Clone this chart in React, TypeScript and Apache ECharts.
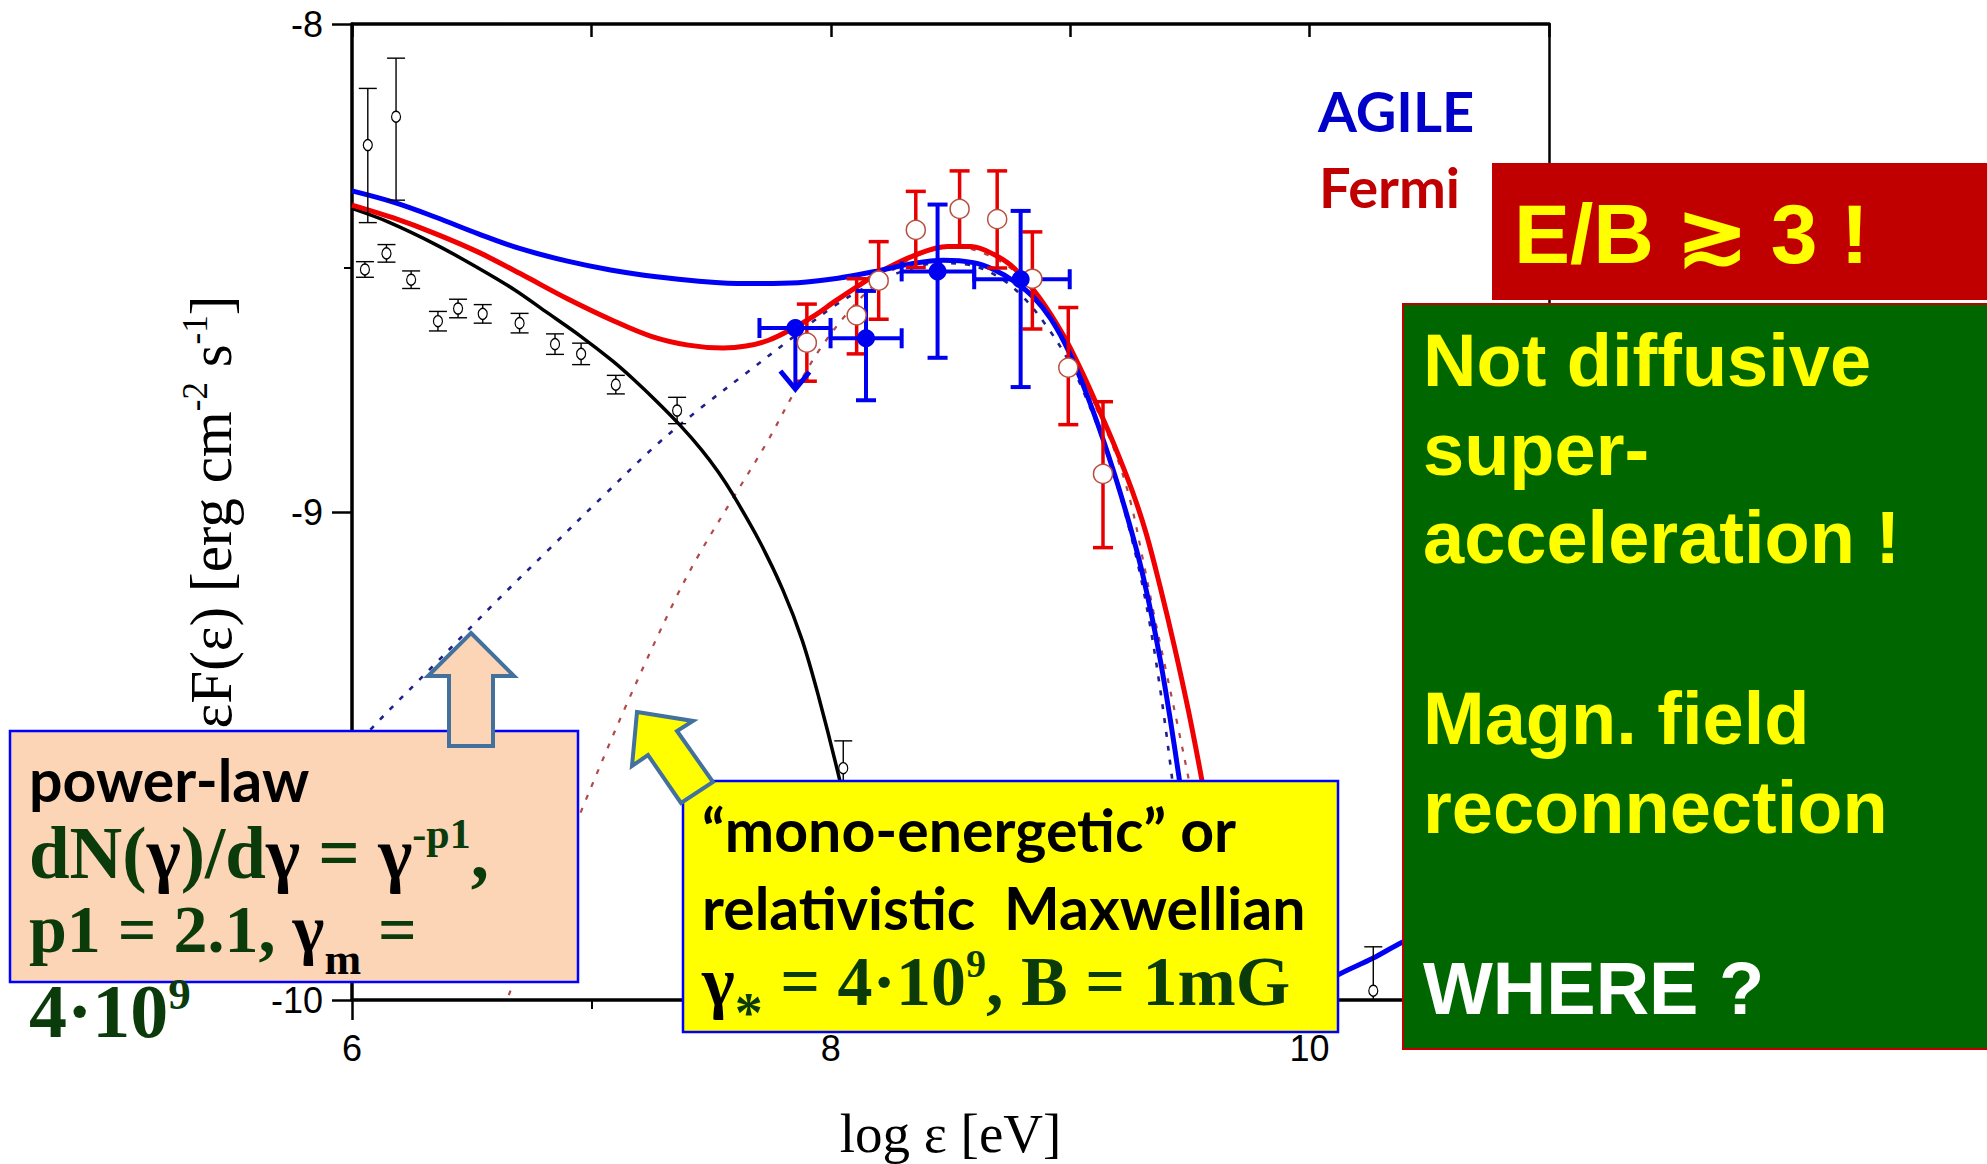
import React, { useEffect, useRef } from "react";
import * as echarts from "echarts";

// ---------------- data ----------------
const xTickLabels = ["6", "8", "10"];
const yTickLabels = ["-10", "-9", "-8"];

// black open circles: [log e, log eF, lower, upper]
const lowEnergyPoints = [
  [6.066, -8.248, -8.407, -8.132],
  [6.184, -8.19, -8.361, -8.07],
  [6.054, -8.503, -8.519, -8.487],
  [6.144, -8.47, -8.488, -8.452],
  [6.247, -8.524, -8.542, -8.506],
  [6.359, -8.609, -8.629, -8.589],
  [6.443, -8.583, -8.602, -8.564],
  [6.546, -8.594, -8.613, -8.575],
  [6.7, -8.613, -8.633, -8.593],
  [6.848, -8.656, -8.677, -8.635],
  [6.957, -8.676, -8.698, -8.654],
  [7.102, -8.739, -8.758, -8.72],
  [7.358, -8.792, -8.819, -8.765],
  [8.052, -9.525, -9.58, -9.469],
  [10.266, -9.981, -10.06, -9.891],
];

// Fermi open red circles: [x, y, lower, upper]
const fermiPoints = [
  [7.9, -8.653, -8.732, -8.574],
  [8.108, -8.597, -8.676, -8.522],
  [8.2, -8.526, -8.605, -8.446],
  [8.355, -8.422, -8.499, -8.343],
  [8.538, -8.379, -8.457, -8.301],
  [8.695, -8.4, -8.5, -8.301],
  [8.842, -8.522, -8.625, -8.426],
  [8.992, -8.704, -8.821, -8.581],
  [9.137, -8.922, -9.073, -8.774],
];

// AGILE filled blue circles: [x, y, yLow, yHigh, xLow, xHigh, upperLimit]
const agilePoints = [
  [7.852, -8.623, -8.748, -8.623, 7.702, 7.999, 1],
  [8.147, -8.644, -8.771, -8.547, 7.999, 8.296, 0],
  [8.446, -8.507, -8.684, -8.37, 8.296, 8.599, 0],
  [8.793, -8.523, -8.744, -8.383, 8.599, 8.998, 0],
];

const blueModel = [
  [6.0, -8.342], [6.179, -8.366], [6.35, -8.396], [6.528, -8.43], [6.7, -8.46],
  [6.9, -8.486], [7.08, -8.504], [7.272, -8.518], [7.449, -8.527], [7.646, -8.532],
  [7.863, -8.53], [8.03, -8.521], [8.206, -8.505], [8.35, -8.49], [8.47, -8.484],
  [8.596, -8.489], [8.68, -8.503], [8.765, -8.527], [8.849, -8.561], [8.92, -8.605],
  [8.995, -8.672], [9.07, -8.76], [9.142, -8.858], [9.215, -8.97], [9.289, -9.1],
  [9.335, -9.2], [9.377, -9.305], [9.418, -9.425], [9.457, -9.552], [9.5, -9.7],
  [9.545, -9.86], [9.585, -10.0],
];

const redModel = [
  [6.0, -8.371], [6.17, -8.397], [6.34, -8.428], [6.53, -8.468], [6.712, -8.514],
  [6.9, -8.563], [7.087, -8.607], [7.25, -8.64], [7.404, -8.658], [7.55, -8.664],
  [7.646, -8.66], [7.74, -8.648], [7.834, -8.626], [7.93, -8.598], [8.021, -8.567],
  [8.12, -8.535], [8.206, -8.508], [8.35, -8.474], [8.488, -8.456], [8.585, -8.456],
  [8.68, -8.472], [8.765, -8.5], [8.87, -8.56], [8.974, -8.64], [9.05, -8.714],
  [9.12, -8.79], [9.186, -8.865], [9.26, -8.958], [9.318, -9.045], [9.375, -9.152],
  [9.435, -9.275], [9.495, -9.41], [9.551, -9.552], [9.6, -9.69], [9.65, -9.85],
  [9.695, -10.0],
];

const blackModel = [
  [6.0, -8.378], [6.153, -8.406], [6.35, -8.452], [6.527, -8.5], [6.68, -8.545],
  [6.808, -8.589], [6.95, -8.638], [7.087, -8.69], [7.18, -8.73], [7.274, -8.774],
  [7.37, -8.822], [7.461, -8.873], [7.53, -8.918], [7.592, -8.965], [7.7, -9.058],
  [7.8, -9.16], [7.88, -9.262], [7.95, -9.38], [8.035, -9.545], [8.1, -9.69],
  [8.17, -9.86], [8.22, -10.0],
];

const blueMonoModel = [
  [6.0, -9.49], [6.096, -9.436], [6.35, -9.31], [6.599, -9.185], [6.83, -9.073],
  [7.05, -8.967], [7.273, -8.862], [7.459, -8.786], [7.645, -8.716], [7.831, -8.646],
  [8.008, -8.58], [8.175, -8.532], [8.3, -8.507], [8.45, -8.49], [8.58, -8.494],
  [8.7, -8.518], [8.8, -8.558], [8.9, -8.618], [9.0, -8.696], [9.07, -8.77],
  [9.142, -8.862], [9.215, -8.977], [9.282, -9.105], [9.33, -9.222], [9.375, -9.36],
  [9.419, -9.52], [9.46, -9.69], [9.5, -9.87], [9.53, -10.0],
];

const redMonoModel = [
  [6.655, -9.99], [6.8, -9.802], [6.953, -9.618], [7.14, -9.402], [7.344, -9.185],
  [7.452, -9.085], [7.591, -8.972], [7.73, -8.86], [7.855, -8.748], [7.952, -8.668],
  [8.077, -8.588], [8.2, -8.527], [8.35, -8.477], [8.5, -8.458], [8.6, -8.463],
  [8.765, -8.505], [8.87, -8.564], [8.974, -8.648], [9.05, -8.722], [9.12, -8.8],
  [9.186, -8.875], [9.25, -8.975], [9.304, -9.098], [9.35, -9.21], [9.4, -9.325],
  [9.45, -9.44], [9.5, -9.56], [9.55, -9.69], [9.6, -9.83], [9.66, -10.0],
];

const blueHighModel = [
  [9.95, -10.0], [10.109, -9.951], [10.266, -9.914], [10.385, -9.882], [10.7, -9.81], [11.0, -9.75],
];

// ---------------- styling helpers ----------------
const DARK_GREEN = "#0B3B0B";
const SERIF = "'Liberation Serif', 'Times New Roman', serif";
const SANS = "'Liberation Sans', Arial, sans-serif";
const CAL = "Lato, 'Open Sans', sans-serif";

function lineSeries(data: number[][], color: string, width: number, type: any, z: number) {
  return {
    type: "line",
    data,
    showSymbol: false,
    symbol: "none",
    smooth: 0.35,
    silent: true,
    z,
    lineStyle: { color, width, type },
    emphasis: { disabled: true },
  };
}

function errorBarSeries(data: number[][], color: string, width: number, cap: number, z: number) {
  return {
    type: "custom",
    data,
    encode: { x: 0, y: 1 },
    clip: true,
    silent: true,
    z,
    renderItem: (params: any, api: any) => {
      const x = api.value(0);
      const a = api.coord([x, api.value(2)]);
      const b = api.coord([x, api.value(3)]);
      const st = { stroke: color, lineWidth: width };
      return {
        type: "group",
        children: [
          { type: "line", shape: { x1: a[0], y1: a[1], x2: b[0], y2: b[1] }, style: st },
          { type: "line", shape: { x1: a[0] - cap, y1: a[1], x2: a[0] + cap, y2: a[1] }, style: st },
          { type: "line", shape: { x1: b[0] - cap, y1: b[1], x2: b[0] + cap, y2: b[1] }, style: st },
        ],
      };
    },
  };
}

function agileBarSeries(data: number[][], color: string, width: number, cap: number, z: number) {
  return {
    type: "custom",
    data,
    encode: { x: 0, y: 1 },
    clip: true,
    silent: true,
    z,
    renderItem: (params: any, api: any) => {
      const x = api.value(0);
      const y = api.value(1);
      const p = api.coord([x, y]);
      const lo = api.coord([x, api.value(2)]);
      const hi = api.coord([x, api.value(3)]);
      const xl = api.coord([api.value(4), y]);
      const xh = api.coord([api.value(5), y]);
      const ul = api.value(6);
      const st = { stroke: color, lineWidth: width, lineCap: "butt" };
      const children: any[] = [
        { type: "line", shape: { x1: xl[0], y1: p[1], x2: xh[0], y2: p[1] }, style: st },
        { type: "line", shape: { x1: xl[0], y1: p[1] - cap, x2: xl[0], y2: p[1] + cap }, style: st },
        { type: "line", shape: { x1: xh[0], y1: p[1] - cap, x2: xh[0], y2: p[1] + cap }, style: st },
      ];
      if (ul) {
        children.push({ type: "line", shape: { x1: p[0], y1: p[1], x2: lo[0], y2: lo[1] }, style: st });
        children.push({
          type: "polyline",
          shape: { points: [[lo[0] - 15, lo[1] - 18], [lo[0], lo[1]], [lo[0] + 14, lo[1] - 17]] },
          style: { stroke: color, lineWidth: width + 1, fill: null },
        });
      } else {
        children.push({ type: "line", shape: { x1: hi[0], y1: hi[1], x2: lo[0], y2: lo[1] }, style: st });
        children.push({ type: "line", shape: { x1: lo[0] - cap, y1: lo[1], x2: lo[0] + cap, y2: lo[1] }, style: st });
        children.push({ type: "line", shape: { x1: hi[0] - cap, y1: hi[1], x2: hi[0] + cap, y2: hi[1] }, style: st });
      }
      return { type: "group", children };
    },
  };
}

function txt(x: number, y: number, text: string, o: any) {
  return {
    type: "text",
    x,
    y,
    z: 102,
    silent: true,
    style: {
      text,
      fill: o.fill,
      fontSize: o.size,
      fontFamily: o.family,
      fontWeight: o.weight || "bold",
      textAlign: "left",
      textVerticalAlign: "middle",
      align: "left",
      verticalAlign: "middle",
      rich: o.rich,
    },
  };
}

const serifRich = (main: number, lh: number) => ({
  g: { fill: DARK_GREEN, fontSize: main, fontFamily: SERIF, fontWeight: "bold", lineHeight: lh },
  k: { fill: "#000", fontSize: main, fontFamily: SERIF, fontWeight: "bold", lineHeight: lh },
});

export default function App() {
  const ref = useRef<HTMLDivElement>(null);

  useEffect(() => {
    if (!ref.current) return;
    const chart = echarts.init(ref.current, null, { renderer: "svg" });

    const axisLineStyle = { color: "#000", width: 3.5 };
    const option: any = {
      animation: false,
      backgroundColor: "#fff",
      grid: { left: 352, top: 24, width: 1197, height: 976, outerBoundsMode: "none" },
      xAxis: [
        {
          type: "value",
          position: "bottom",
          min: 6,
          max: 11,
          interval: 2,
          axisLine: { show: true, onZero: false, lineStyle: axisLineStyle },
          axisTick: { show: true, inside: false, length: 20, lineStyle: { color: "#000", width: 2.5 } },
          minorTick: { show: true, splitNumber: 2, length: 9, lineStyle: { color: "#000", width: 2 } },
          axisLabel: {
            formatter: (v: number) => (xTickLabels.includes(String(v)) ? String(v) : ""),
            fontFamily: SANS,
            fontSize: 36,
            color: "#000",
            margin: 30,
            showMaxLabel: false,
          },
          splitLine: { show: false },
          name: "log ε [eV]",
          nameLocation: "middle",
          nameGap: 106,
          nameTextStyle: { fontFamily: SERIF, fontSize: 55, color: "#000" },
        },
        {
          type: "value",
          position: "top",
          min: 6,
          max: 11,
          interval: 1,
          axisLine: { show: true, onZero: false, lineStyle: axisLineStyle },
          axisTick: { show: true, inside: true, length: 13, lineStyle: { color: "#000", width: 2.5 } },
          axisLabel: { show: false },
          splitLine: { show: false },
        },
      ],
      yAxis: [
        {
          type: "value",
          position: "left",
          min: -10,
          max: -8,
          interval: 1,
          axisLine: { show: true, onZero: false, lineStyle: axisLineStyle },
          axisTick: { show: true, inside: false, length: 20, lineStyle: { color: "#000", width: 2.5 } },
          minorTick: { show: true, splitNumber: 2, length: 8, lineStyle: { color: "#000", width: 2 } },
          axisLabel: {
            formatter: (v: number) => (yTickLabels.includes(String(v)) ? String(v) : ""),
            fontFamily: SANS,
            fontSize: 36,
            color: "#000",
            margin: 29,
          },
          splitLine: { show: false },
          name: "{a|εF(ε) [erg cm}{s|-2}{a| s}{s|-1}{a|]}",
          nameLocation: "middle",
          nameRotate: 90,
          nameGap: 108,
          nameTextStyle: {
            fontFamily: SERIF,
            fontSize: 59,
            color: "#000",
            rich: {
              a: { fontFamily: SERIF, fontSize: 59, color: "#000", lineHeight: 66 },
              s: { fontFamily: SERIF, fontSize: 35, color: "#000", lineHeight: 36, verticalAlign: "top" },
            },
          },
        },
        {
          type: "value",
          position: "right",
          min: -10,
          max: -8,
          interval: 1,
          axisLine: { show: true, onZero: false, lineStyle: { color: "#000", width: 2.5 } },
          axisTick: { show: false },
          axisLabel: { show: false },
          splitLine: { show: false },
        },
      ],
      series: [
        lineSeries(redMonoModel, "#B24848", 2.2, [5, 9], 2),
        lineSeries(blueMonoModel, "#20208C", 2.6, [5, 9], 2),
        lineSeries(blackModel, "#000000", 3.5, "solid", 3),
        lineSeries(redModel, "#F00000", 5, "solid", 3),
        lineSeries(blueModel, "#0000F5", 5, "solid", 3),
        lineSeries(blueHighModel, "#0000F5", 5, "solid", 3),
        errorBarSeries(lowEnergyPoints, "#000", 1.4, 9, 4),
        {
          type: "scatter",
          data: lowEnergyPoints.map((p) => [p[0], p[1]]),
          symbol: "circle",
          symbolSize: [9, 11],
          silent: true,
          z: 5,
          itemStyle: { color: "#fff", borderColor: "#000", borderWidth: 1.3, opacity: 1 },
          emphasis: { disabled: true },
        },
        errorBarSeries(fermiPoints, "#E80000", 3.5, 10, 4),
        {
          type: "scatter",
          data: fermiPoints.map((p) => [p[0], p[1]]),
          symbol: "circle",
          symbolSize: 19,
          silent: true,
          z: 5,
          itemStyle: { color: "#fff", borderColor: "#B85040", borderWidth: 1.5, opacity: 1 },
          emphasis: { disabled: true },
        },
        agileBarSeries(agilePoints, "#0000F0", 4, 10, 4),
        {
          type: "scatter",
          data: agilePoints.map((p) => [p[0], p[1]]),
          symbol: "circle",
          symbolSize: 18,
          silent: true,
          z: 5,
          itemStyle: { color: "#0000F0", opacity: 1 },
          emphasis: { disabled: true },
        },
      ],
      graphic: {
        elements: [
          // peach box + arrow
          {
            type: "rect", z: 100, silent: true,
            shape: { x: 10, y: 731, width: 568, height: 251 },
            style: { fill: "#FBD5B5", stroke: "#0000FF", lineWidth: 2.5 },
          },
          {
            type: "polygon", z: 101, silent: true,
            shape: { points: [[471, 633], [514, 676], [493, 676], [493, 746], [449, 746], [449, 676], [428, 676]] },
            style: { fill: "#FBD5B5", stroke: "#41719C", lineWidth: 4, lineJoin: "miter" },
          },
          // yellow box + arrow
          {
            type: "rect", z: 100, silent: true,
            shape: { x: 683, y: 781, width: 655, height: 251 },
            style: { fill: "#FFFF00", stroke: "#0000FF", lineWidth: 2.5 },
          },
          {
            type: "polygon", z: 101, silent: true,
            shape: { points: [[637, 712], [693, 721], [677, 731], [713, 782], [681, 803], [648, 755], [632, 766]] },
            style: { fill: "#FFFF00", stroke: "#41719C", lineWidth: 4, lineJoin: "miter" },
          },
          // red box
          {
            type: "rect", z: 100, silent: true,
            shape: { x: 1492, y: 163, width: 500, height: 137 },
            style: { fill: "#C00000" },
          },
          // green box
          {
            type: "rect", z: 100, silent: true,
            shape: { x: 1403, y: 304, width: 590, height: 745 },
            style: { fill: "#006600", stroke: "#C00000", lineWidth: 2 },
          },
          // legend-like labels
          txt(1318, 110, "AGILE", { fill: "#0000C8", size: 56, family: CAL }),
          txt(1319, 186, "Fermi", { fill: "#C00000", size: 56, family: CAL }),
          txt(1514, 234, "E/B ≳ 3 !", { fill: "#FFFF00", size: 84, family: SANS }),
          // green box text
          txt(1423, 360, "Not diffusive", { fill: "#FFFF00", size: 74, family: SANS }),
          txt(1423, 449, "super-", { fill: "#FFFF00", size: 74, family: SANS }),
          txt(1423, 537, "acceleration !", { fill: "#FFFF00", size: 74, family: SANS }),
          txt(1423, 718, "Magn. field", { fill: "#FFFF00", size: 74, family: SANS }),
          txt(1423, 807, "reconnection", { fill: "#FFFF00", size: 74, family: SANS }),
          txt(1423, 988, "WHERE ?", { fill: "#FFFFFF", size: 74, family: SANS }),
          // peach box text
          txt(29, 779, "power-law", { fill: "#000", size: 59, family: CAL }),
          txt(29, 853, "{g|dN(}{k|γ}{g|)/d}{k|γ}{g| = }{k|γ}{sup|-p1}{g|,}", {
            fill: DARK_GREEN, size: 73, family: SERIF,
            rich: {
              ...serifRich(73, 80),
              sup: { fill: DARK_GREEN, fontSize: 42, fontFamily: SERIF, fontWeight: "bold", lineHeight: 46, verticalAlign: "top" },
            },
          }),
          txt(29, 929, "{g|p1 = 2.1, }{k|γ}{sub|m}{g| =}", {
            fill: DARK_GREEN, size: 68, family: SERIF,
            rich: {
              ...serifRich(68, 76),
              sub: { fill: "#000", fontSize: 44, fontFamily: SERIF, fontWeight: "bold", lineHeight: 50, padding: [60, 0, 0, 0] },
            },
          }),
          txt(29, 1011, "{g|4·10}{sup|9}", {
            fill: DARK_GREEN, size: 76, family: SERIF,
            rich: {
              g: { fill: DARK_GREEN, fontSize: 76, fontFamily: SERIF, fontWeight: "bold", lineHeight: 80 },
              sup: { fill: DARK_GREEN, fontSize: 45, fontFamily: SERIF, fontWeight: "bold", lineHeight: 47, verticalAlign: "top" },
            },
          }),
          // yellow box text
          txt(702, 829, "“mono-energetic” or", { fill: "#000", size: 59, family: CAL }),
          txt(702, 907, "relativistic  Maxwellian", { fill: "#000", size: 59, family: CAL }),
          txt(702, 981, "{k|γ}{sub|*}{g| = 4·10}{sup|9}{g|, B = 1mG}", {
            fill: DARK_GREEN, size: 70, family: SERIF,
            rich: {
              ...serifRich(70, 76),
              sup: { fill: DARK_GREEN, fontSize: 40, fontFamily: SERIF, fontWeight: "bold", lineHeight: 43, verticalAlign: "top" },
              sub: { fill: DARK_GREEN, fontSize: 56, fontFamily: SERIF, fontWeight: "bold", lineHeight: 64, padding: [64, 0, 0, 0] },
            },
          }),
        ],
      },
    };

    chart.setOption(option);
    return () => chart.dispose();
  }, []);

  return (
    <div
      ref={ref}
      style={{ position: "fixed", left: 0, top: 0, width: 1987, height: 1164, background: "#fff" }}
    />
  );
}
